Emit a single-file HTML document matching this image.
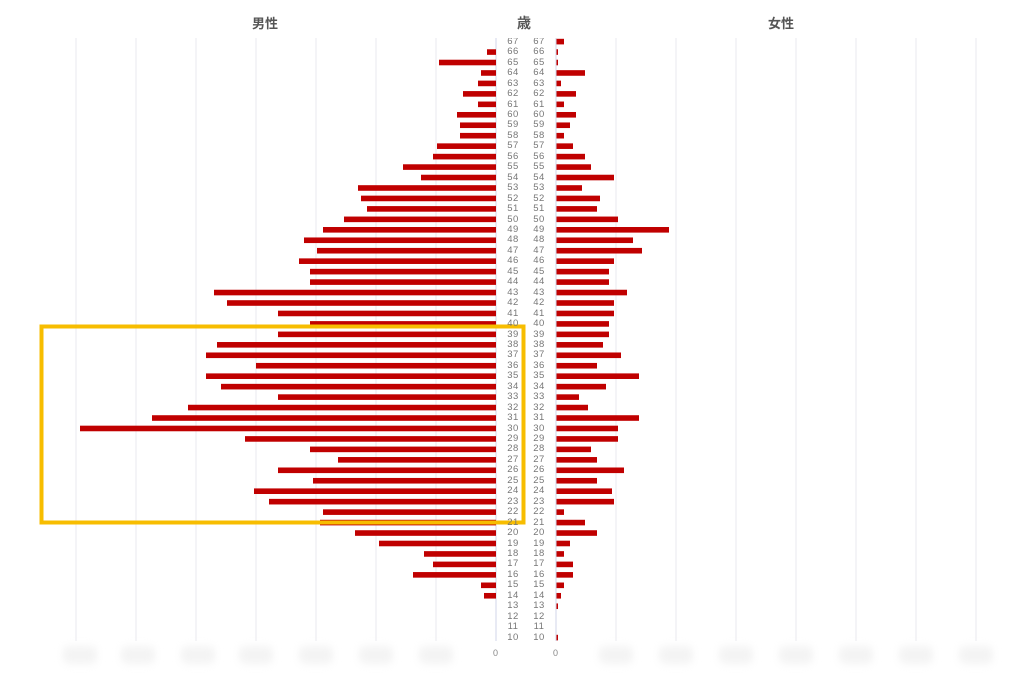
<!DOCTYPE html>
<html><head><meta charset="utf-8">
<style>
body{margin:0;background:#fff;width:1036px;height:687px;overflow:hidden;position:relative;font-family:"Liberation Sans","Noto Sans CJK JP",sans-serif}
.h{position:absolute;top:13px;font-size:13px;font-weight:bold;color:#555;transform:translateX(-50%)}
.col{position:absolute;font-size:9.5px;line-height:10.456px;color:#777;text-align:center;width:24px;letter-spacing:0.5px}
.clip{position:absolute;top:38px;left:490px;width:80px;height:610px;overflow:hidden}
.z{position:absolute;top:648px;font-size:9px;color:#888}
.blob{position:absolute;top:646px;width:34px;height:18px;background:#f4f4f4;filter:blur(4px);border-radius:6px}
</style></head><body>
<svg id="s" width="1036" height="687" style="position:absolute;left:0;top:0"></svg>
<div class="h" style="left:265px">男性</div>
<div class="h" style="left:524px;font-size:14px">歳</div>
<div class="h" style="left:781px">女性</div>
<div class="clip">
<div class="col" style="left:11px;top:-1.2px">67<br>66<br>65<br>64<br>63<br>62<br>61<br>60<br>59<br>58<br>57<br>56<br>55<br>54<br>53<br>52<br>51<br>50<br>49<br>48<br>47<br>46<br>45<br>44<br>43<br>42<br>41<br>40<br>39<br>38<br>37<br>36<br>35<br>34<br>33<br>32<br>31<br>30<br>29<br>28<br>27<br>26<br>25<br>24<br>23<br>22<br>21<br>20<br>19<br>18<br>17<br>16<br>15<br>14<br>13<br>12<br>11<br>10</div>
<div class="col" style="left:37px;top:-1.2px">67<br>66<br>65<br>64<br>63<br>62<br>61<br>60<br>59<br>58<br>57<br>56<br>55<br>54<br>53<br>52<br>51<br>50<br>49<br>48<br>47<br>46<br>45<br>44<br>43<br>42<br>41<br>40<br>39<br>38<br>37<br>36<br>35<br>34<br>33<br>32<br>31<br>30<br>29<br>28<br>27<br>26<br>25<br>24<br>23<br>22<br>21<br>20<br>19<br>18<br>17<br>16<br>15<br>14<br>13<br>12<br>11<br>10</div>
</div>
<div class="z" style="left:493px">0</div>
<div class="z" style="left:553px">0</div>
<div class="blob" style="left:63px"></div><div class="blob" style="left:121px"></div><div class="blob" style="left:181px"></div><div class="blob" style="left:239px"></div><div class="blob" style="left:299px"></div><div class="blob" style="left:359px"></div><div class="blob" style="left:419px"></div>
<div class="blob" style="left:599px"></div><div class="blob" style="left:659px"></div><div class="blob" style="left:719px"></div><div class="blob" style="left:779px"></div><div class="blob" style="left:839px"></div><div class="blob" style="left:899px"></div><div class="blob" style="left:959px"></div>
<script>
var L=[496,487,439,481,478,463,478,457,460,460,437,433,403,421,358,361,367,344,323,304,317,299,310,310,214,227,278,310,278,217,206,256,206,221,278,188,152,80,245,310,338,278,313,254,269,323,320,355,379,424,433,413,481,484,496,496,496,496];
var R=[564,558,558,585,561,576,564,576,570,564,573,585,591,614,582,600,597,618,669,633,642,614,609,609,627,614,614,609,609,603,621,597,639,606,579,588,639,618,618,591,597,624,597,612,614,564,585,597,570,564,573,573,564,561,558,556,556,558];
var s='';
for(var x=76;x<=976;x+=60){if(x==496||x==556)continue;s+='<line x1="'+x+'" y1="38" x2="'+x+'" y2="641" stroke="#e9e9ef" stroke-width="1"/>';}
s+='<line x1="496" y1="38" x2="496" y2="641" stroke="#d0d4e8"/><line x1="556" y1="38" x2="556" y2="641" stroke="#d0d4e8"/>';
for(var i=0;i<58;i++){var y=41.6+i*10.456-2.8;
if(L[i]<496)s+='<rect x="'+L[i]+'" y="'+y+'" width="'+(496-L[i])+'" height="5.6" fill="#c00000"/>';
if(R[i]>556)s+='<rect x="556.5" y="'+y+'" width="'+(R[i]-556.5)+'" height="5.6" fill="#c00000"/>';}
s+='<rect x="41.5" y="326.5" width="482" height="196" fill="none" stroke="#f7bd00" stroke-width="4"/>';
document.getElementById('s').innerHTML=s;
</script>
</body></html>
